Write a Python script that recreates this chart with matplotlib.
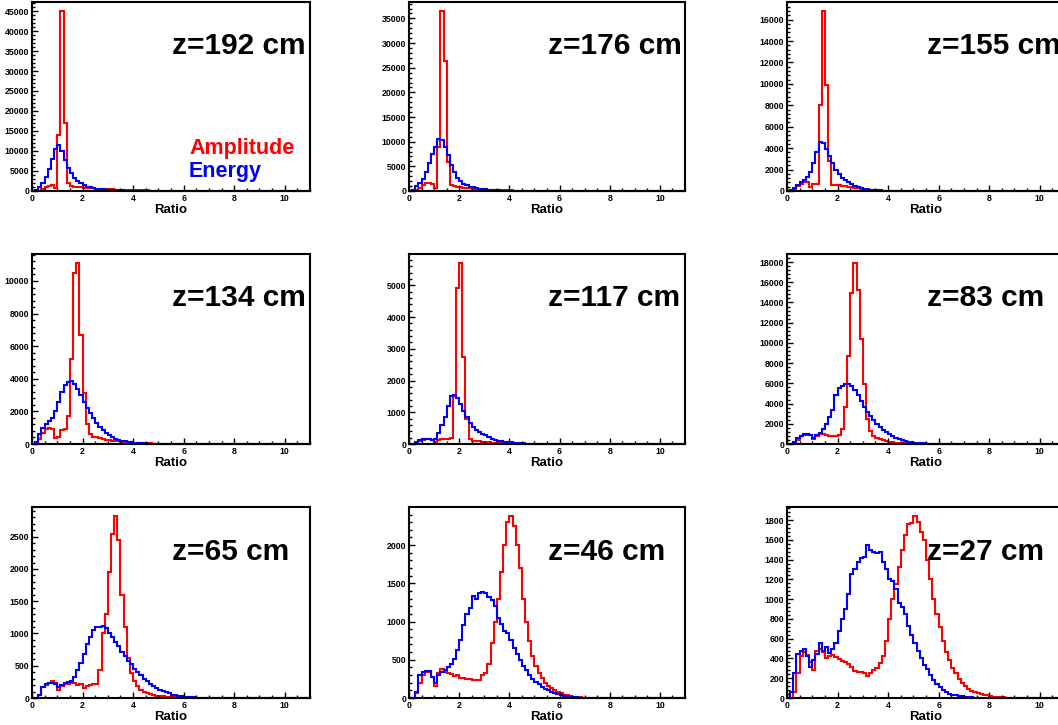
import numpy as np
import matplotlib
matplotlib.use("Agg")
import matplotlib.pyplot as plt
from matplotlib.ticker import MultipleLocator

plt.rcParams['font.family'] = ['Liberation Sans', 'DejaVu Sans']
plt.rcParams['font.weight'] = 'bold'

# 88 bins of width 0.125 from 0 to 11, eight bins per unit of ratio on each row
x_min, x_max, n_bins = 0.0, 11.0, 88

labels = ["z=192 cm", "z=176 cm", "z=155 cm",
          "z=134 cm", "z=117 cm", "z=83 cm",
          "z=65 cm", "z=46 cm", "z=27 cm"]

amp_192 = [0, 0, 100, 400, 900, 1300, 1500, 700,
           14000, 45000, 17000, 2000, 1300, 1100, 1000, 900,
           830, 760, 700, 640, 580, 540, 500, 460,
           420, 390, 360, 330, 300, 270, 250, 230,
           210, 190, 170, 150, 130, 115, 100, 90,
           80, 70, 60, 50, 45, 40, 35, 30,
           25, 20, 18, 15, 12, 10, 8, 6,
           5, 4, 3, 2, 2, 1, 0, 0,
           0, 0, 0, 0, 0, 0, 0, 0,
           0, 0, 0, 0, 0, 0, 0, 0,
           0, 0, 0, 0, 0, 0, 0, 0]
en_192 = [0, 300, 1000, 2000, 3500, 5500, 8000, 10500,
          11500, 10000, 7700, 5800, 4400, 3200, 2500, 1900,
          1500, 1100, 900, 700, 560, 460, 380, 320,
          260, 220, 180, 150, 130, 110, 95, 80,
          70, 60, 50, 45, 40, 35, 30, 25,
          20, 16, 13, 10, 8, 6, 5, 4,
          3, 2, 2, 1, 1, 0, 0, 0,
          0, 0, 0, 0, 0, 0, 0, 0,
          0, 0, 0, 0, 0, 0, 0, 0,
          0, 0, 0, 0, 0, 0, 0, 0,
          0, 0, 0, 0, 0, 0, 0, 0]

amp_176 = [0, 0, 200, 700, 1200, 1600, 1700, 1400,
           700, 9000, 36500, 26300, 5800, 1200, 1000, 900,
           800, 700, 640, 560, 500, 450, 400, 360,
           320, 280, 250, 220, 190, 170, 150, 130,
           110, 95, 80, 70, 60, 50, 42, 36,
           30, 25, 20, 17, 14, 12, 10, 8,
           6, 5, 4, 3, 2, 2, 1, 0,
           0, 0, 0, 0, 0, 0, 0, 0,
           0, 0, 0, 0, 0, 0, 0, 0,
           0, 0, 0, 0, 0, 0, 0, 0,
           0, 0, 0, 0, 0, 0, 0, 0]
en_176 = [0, 200, 1000, 1700, 2500, 3800, 5600, 7500,
          9000, 10500, 10300, 9000, 7400, 5200, 3900, 2700,
          2000, 1500, 1150, 900, 720, 580, 470, 380,
          310, 250, 200, 160, 130, 100, 80, 65,
          50, 40, 32, 25, 20, 16, 12, 10,
          8, 6, 5, 4, 3, 2, 2, 1,
          0, 0, 0, 0, 0, 0, 0, 0,
          0, 0, 0, 0, 0, 0, 0, 0,
          0, 0, 0, 0, 0, 0, 0, 0,
          0, 0, 0, 0, 0, 0, 0, 0,
          0, 0, 0, 0, 0, 0, 0, 0]

amp_155 = [0, 0, 100, 500, 700, 800, 800, 350,
           650, 700, 8000, 16800, 9900, 2800, 600, 550,
           520, 480, 440, 400, 350, 300, 250, 210,
           170, 130, 100, 80, 60, 45, 35, 28,
           22, 17, 13, 10, 8, 6, 5, 4,
           3, 2, 2, 1, 0, 0, 0, 0,
           0, 0, 0, 0, 0, 0, 0, 0,
           0, 0, 0, 0, 0, 0, 0, 0,
           0, 0, 0, 0, 0, 0, 0, 0,
           0, 0, 0, 0, 0, 0, 0, 0,
           0, 0, 0, 0, 0, 0, 0, 0]
en_155 = [0, 100, 300, 600, 800, 1000, 1300, 1800,
          2600, 3600, 4600, 4500, 3900, 3300, 2600, 2000,
          1600, 1250, 1000, 800, 620, 480, 370, 280,
          220, 170, 130, 100, 80, 60, 45, 35,
          25, 20, 15, 12, 9, 7, 5, 4,
          3, 2, 2, 1, 0, 0, 0, 0,
          0, 0, 0, 0, 0, 0, 0, 0,
          0, 0, 0, 0, 0, 0, 0, 0,
          0, 0, 0, 0, 0, 0, 0, 0,
          0, 0, 0, 0, 0, 0, 0, 0,
          0, 0, 0, 0, 0, 0, 0, 0]

amp_134 = [0, 0, 300, 700, 950, 1000, 900, 350,
           400, 850, 900, 1700, 5200, 10500, 11100, 6700,
           3100, 1200, 600, 450, 400, 350, 300, 250,
           220, 200, 180, 160, 140, 120, 110, 100,
           90, 80, 70, 60, 50, 40, 30, 25,
           20, 16, 13, 10, 8, 6, 5, 4,
           3, 2, 2, 1, 0, 0, 0, 0,
           0, 0, 0, 0, 0, 0, 0, 0,
           0, 0, 0, 0, 0, 0, 0, 0,
           0, 0, 0, 0, 0, 0, 0, 0,
           0, 0, 0, 0, 0, 0, 0, 0]
en_134 = [0, 100, 600, 1000, 1200, 1400, 1600, 2000,
          2600, 3200, 3600, 3800, 3850, 3700, 3400, 3000,
          2600, 2200, 1900, 1600, 1300, 1050, 850, 680,
          540, 420, 330, 260, 200, 160, 120, 95,
          75, 60, 45, 35, 25, 20, 15, 10,
          8, 6, 4, 3, 2, 1, 0, 0,
          0, 0, 0, 0, 0, 0, 0, 0,
          0, 0, 0, 0, 0, 0, 0, 0,
          0, 0, 0, 0, 0, 0, 0, 0,
          0, 0, 0, 0, 0, 0, 0, 0,
          0, 0, 0, 0, 0, 0, 0, 0]

amp_117 = [0, 0, 20, 80, 130, 150, 150, 120,
           50, 120, 150, 150, 160, 180, 1500, 4900,
           5700, 2750, 800, 150, 100, 90, 80, 70,
           60, 50, 45, 40, 35, 30, 25, 20,
           18, 15, 12, 10, 8, 6, 5, 4,
           3, 2, 2, 1, 0, 0, 0, 0,
           0, 0, 0, 0, 0, 0, 0, 0,
           0, 0, 0, 0, 0, 0, 0, 0,
           0, 0, 0, 0, 0, 0, 0, 0,
           0, 0, 0, 0, 0, 0, 0, 0,
           0, 0, 0, 0, 0, 0, 0, 0]
en_117 = [0, 0, 50, 130, 170, 170, 150, 120,
          150, 350, 600, 850, 1200, 1500, 1550, 1450,
          1250, 1050, 850, 650, 520, 430, 380, 330,
          270, 210, 160, 130, 110, 90, 75, 60,
          50, 40, 30, 25, 20, 15, 12, 10,
          8, 6, 5, 4, 3, 2, 1, 0,
          0, 0, 0, 0, 0, 0, 0, 0,
          0, 0, 0, 0, 0, 0, 0, 0,
          0, 0, 0, 0, 0, 0, 0, 0,
          0, 0, 0, 0, 0, 0, 0, 0,
          0, 0, 0, 0, 0, 0, 0, 0]

amp_83 = [0, 0, 100, 400, 800, 900, 900, 850,
          450, 800, 1000, 950, 850, 800, 800, 750,
          900, 1500, 3700, 8700, 14900, 17900, 15200, 10400,
          5900, 2500, 1300, 800, 600, 450, 350, 280,
          220, 180, 140, 110, 90, 70, 55, 45,
          35, 28, 22, 17, 13, 10, 8, 6,
          5, 4, 3, 2, 2, 1, 0, 0,
          0, 0, 0, 0, 0, 0, 0, 0,
          0, 0, 0, 0, 0, 0, 0, 0,
          0, 0, 0, 0, 0, 0, 0, 0,
          0, 0, 0, 0, 0, 0, 0, 0]
en_83 = [0, 0, 150, 550, 750, 950, 950, 900,
         560, 850, 1100, 1500, 2000, 2700, 3400, 4800,
         5500, 5700, 5900, 5900, 5700, 5300, 4800, 4300,
         3700, 3200, 2800, 2400, 2000, 1700, 1400, 1150,
         950, 750, 600, 470, 370, 290, 220, 170,
         130, 100, 75, 55, 40, 30, 22, 16,
         12, 9, 6, 4, 3, 2, 1, 0,
         0, 0, 0, 0, 0, 0, 0, 0,
         0, 0, 0, 0, 0, 0, 0, 0,
         0, 0, 0, 0, 0, 0, 0, 0,
         0, 0, 0, 0, 0, 0, 0, 0]

amp_65 = [0, 0, 40, 170, 200, 230, 260, 240,
          120, 190, 210, 220, 230, 230, 200, 220,
          160, 190, 200, 210, 220, 440, 1000, 1300,
          1950, 2550, 2820, 2450, 1600, 1100, 620, 380,
          260, 180, 120, 90, 70, 55, 45, 35,
          30, 25, 20, 15, 12, 10, 8, 6,
          5, 4, 3, 2, 1, 0, 0, 0,
          0, 0, 0, 0, 0, 0, 0, 0,
          0, 0, 0, 0, 0, 0, 0, 0,
          0, 0, 0, 0, 0, 0, 0, 0,
          0, 0, 0, 0, 0, 0, 0, 0]
en_65 = [0, 0, 50, 170, 210, 230, 240, 220,
         170, 200, 230, 250, 260, 330, 430, 550,
         680, 830, 950, 1050, 1100, 1100, 1120, 1090,
         1000, 940, 870, 800, 720, 650, 580, 520,
         450, 400, 350, 300, 260, 220, 190, 160,
         130, 110, 90, 70, 50, 40, 30, 25,
         20, 15, 10, 8, 6, 4, 3, 2,
         1, 0, 0, 0, 0, 0, 0, 0,
         0, 0, 0, 0, 0, 0, 0, 0,
         0, 0, 0, 0, 0, 0, 0, 0,
         0, 0, 0, 0, 0, 0, 0, 0]

amp_46 = [0, 0, 60, 200, 300, 340, 340, 280,
          160, 330, 380, 340, 330, 310, 290, 300,
          260, 260, 250, 250, 240, 230, 230, 300,
          330, 450, 720, 1000, 1300, 1650, 2000, 2300,
          2380, 2250, 2000, 1700, 1300, 1000, 750, 550,
          420, 330, 260, 200, 160, 130, 100, 80,
          60, 45, 35, 25, 18, 12, 8, 5,
          3, 2, 1, 0, 0, 0, 0, 0,
          0, 0, 0, 0, 0, 0, 0, 0,
          0, 0, 0, 0, 0, 0, 0, 0,
          0, 0, 0, 0, 0, 0, 0, 0]
en_46 = [0, 0, 80, 300, 340, 350, 350, 280,
         200, 300, 340, 370, 400, 440, 510, 630,
         760, 950, 1100, 1180, 1330, 1300, 1380, 1390,
         1370, 1320, 1280, 1200, 1050, 970, 880, 850,
         760, 650, 570, 500, 420, 360, 300, 250,
         210, 180, 150, 120, 100, 80, 65, 50,
         40, 30, 22, 16, 12, 8, 5, 3,
         2, 1, 0, 0, 0, 0, 0, 0,
         0, 0, 0, 0, 0, 0, 0, 0,
         0, 0, 0, 0, 0, 0, 0, 0,
         0, 0, 0, 0, 0, 0, 0, 0]

amp_27 = [0, 0, 60, 250, 420, 470, 440, 360,
          280, 480, 500, 470, 400, 420, 430, 410,
          390, 370, 360, 340, 310, 270, 260, 260,
          250, 220, 250, 280, 300, 350, 420, 580,
          800, 1000, 1150, 1330, 1500, 1650, 1760, 1770,
          1840, 1780, 1680, 1600, 1400, 1200, 1000, 850,
          720, 580, 470, 380, 300, 250, 190, 150,
          120, 95, 75, 60, 48, 40, 32, 28,
          20, 15, 12, 9, 7, 5, 4, 3,
          2, 1, 0, 0, 0, 0, 0, 0,
          0, 0, 0, 0, 0, 0, 0, 0]
en_27 = [0, 60, 250, 450, 480, 500, 420, 310,
         380, 450, 560, 480, 520, 460, 500, 560,
         680, 800, 900, 1050, 1250, 1300, 1380, 1420,
         1430, 1550, 1500, 1480, 1470, 1480, 1380, 1300,
         1200, 1180, 1100, 960, 920, 850, 730, 640,
         560, 480, 400, 330, 290, 230, 180, 140,
         110, 80, 60, 45, 35, 28, 22, 16,
         12, 9, 7, 5, 4, 3, 2, 1,
         0, 0, 0, 0, 0, 0, 0, 0,
         0, 0, 0, 0, 0, 0, 0, 0,
         0, 0, 0, 0, 0, 0, 0, 0]

amplitude = [amp_192, amp_176, amp_155, amp_134, amp_117, amp_83, amp_65, amp_46, amp_27]
energy = [en_192, en_176, en_155, en_134, en_117, en_83, en_65, en_46, en_27]
y_steps = [5000, 5000, 2000, 2000, 1000, 2000, 500, 500, 200]

# pad layout in pixels of the 1058x725 canvas
W, H = 1058, 725
col_left = [32, 409, 787]
col_width = [278, 276, 278]
row_top = [2, 254, 507]
row_height = [189, 190, 191]

edges = np.linspace(x_min, x_max, n_bins + 1)

fig = plt.figure(figsize=(W / 100, H / 100), dpi=100)

for k in range(9):
    r, c = divmod(k, 3)
    ax = fig.add_axes([col_left[c] / W, (H - row_top[r] - row_height[r]) / H,
                       col_width[c] / W, row_height[r] / H])

    ax.stairs(amplitude[k], edges, color='#ff0000', linewidth=1.5, clip_on=False)
    ax.stairs(energy[k], edges, color='#0000ff', linewidth=1.5, clip_on=False)

    ymax = 1.05 * max(max(amplitude[k]), max(energy[k]))
    ax.set_xlim(x_min, x_max)
    ax.set_ylim(0, ymax)

    ax.xaxis.set_major_locator(MultipleLocator(2))
    ax.xaxis.set_minor_locator(MultipleLocator(0.5))
    ax.yaxis.set_major_locator(MultipleLocator(y_steps[k]))
    ax.yaxis.set_minor_locator(MultipleLocator(y_steps[k] / 5))
    ax.tick_params(which='both', direction='in', top=False, right=False,
                   labelsize=6.3, pad=2, width=1)
    ax.tick_params(which='major', length=4)
    ax.tick_params(which='minor', length=2)
    for s in ax.spines.values():
        s.set_linewidth(1.5)

    ax.set_xlabel("Ratio", fontsize=9.5, fontweight='bold', labelpad=1)
    # position label starts at the middle of the pad, as in the original
    ax.text(0.503, 0.725, labels[k], transform=ax.transAxes, ha='left',
            va='baseline', fontsize=21.5, fontweight='bold')

    if k == 0:
        ax.text(0.565, 0.196, "Amplitude", transform=ax.transAxes, color='#ff0000',
                fontsize=15.5, fontweight='bold', va='baseline')
        ax.text(0.565, 0.074, "Energy", transform=ax.transAxes, color='#0000ff',
                fontsize=15.5, fontweight='bold', va='baseline')

fig.savefig("out.png", dpi=100)
